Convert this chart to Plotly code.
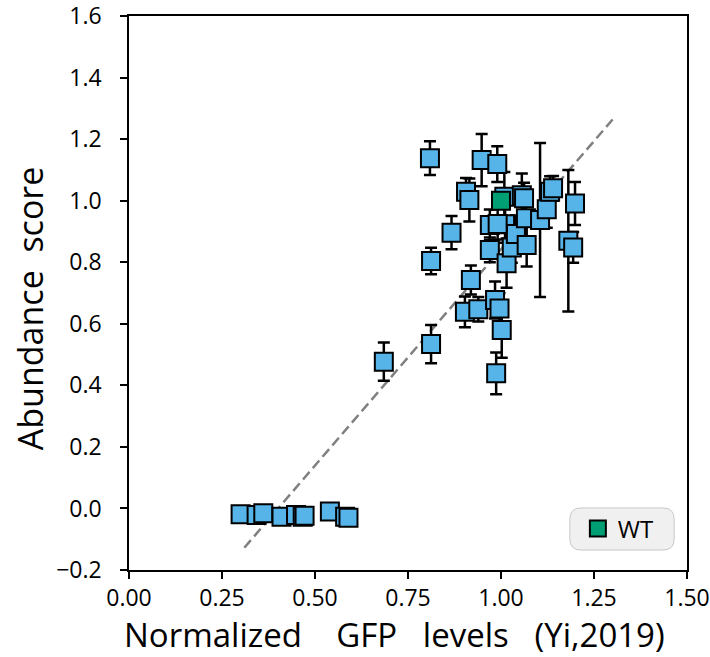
import numpy as np
import plotly.graph_objects as go

# Variant measurements: GFP level (Yi, 2019) vs. abundance score with SD
gfp_levels = [
    0.300, 0.343, 0.361, 0.410, 0.449, 0.467, 0.472, 0.540, 0.581, 0.590,
    0.685, 0.812, 0.809, 0.812, 0.867, 0.906, 0.915, 0.903, 0.919, 0.939,
    0.948, 0.990, 0.970, 0.970, 0.984, 0.996, 1.002, 0.987, 1.009, 1.011,
    1.015, 1.029, 1.040, 1.056, 1.062, 1.067, 1.069, 1.105, 1.123, 1.132,
    1.140, 1.181, 1.194, 1.199, 0.991,
]
abundance = [
    -0.019, -0.021, -0.016, -0.027, -0.021, -0.027, -0.024, -0.010, -0.027, -0.030,
    0.477, 0.534, 1.138, 0.804, 0.896, 1.029, 1.002, 0.639, 0.742, 0.647,
    1.132, 1.119, 0.921, 0.840, 0.677, 0.650, 0.580, 0.439, 1.013, 0.923,
    0.797, 0.848, 0.892, 1.018, 1.008, 0.943, 0.856, 0.937, 0.972, 1.029,
    1.040, 0.870, 0.848, 0.991, 0.924,
]
abundance_sd = [
    0.0, 0.0, 0.0, 0.0, 0.0, 0.0, 0.0, 0.0, 0.0, 0.0,
    0.062, 0.062, 0.055, 0.043, 0.054, 0.045, 0.070, 0.050, 0.047, 0.040,
    0.085, 0.058, 0.050, 0.040, 0.060, 0.050, 0.090, 0.068, 0.080, 0.060,
    0.080, 0.050, 0.060, 0.070, 0.050, 0.060, 0.070, 0.250, 0.060, 0.050,
    0.040, 0.230, 0.050, 0.070, 0.050,
]
wt_gfp = [1.0]
wt_abundance = [1.0]

fit_span = [0.31, 1.30]
x_ticks = [0.00, 0.25, 0.50, 0.75, 1.00, 1.25, 1.50]
y_ticks = [-0.2, 0.0, 0.2, 0.4, 0.6, 0.8, 1.0, 1.2, 1.4, 1.6]

BLUE = "#56B4E9"
GREEN = "#009E73"
FONT = "Open Sans"
NB = "\u00a0"

slope, intercept = np.polyfit(gfp_levels, abundance, 1)
fit_x = np.array(fit_span)
fit_y = slope * fit_x + intercept

fig = go.Figure()

fig.add_trace(go.Scatter(
    x=fit_x, y=fit_y, mode="lines",
    line=dict(color="#808080", width=2.5, dash="10px,5px"),
    showlegend=False, hoverinfo="skip",
))

fig.add_trace(go.Scatter(
    x=gfp_levels, y=abundance, mode="markers",
    marker=dict(symbol="square", size=18, color=BLUE,
                line=dict(color="black", width=2)),
    error_y=dict(type="data", array=abundance_sd, color="black",
                 thickness=2.5, width=6),
    showlegend=False,
))

fig.add_trace(go.Scatter(
    x=wt_gfp, y=wt_abundance, mode="markers", name="WT",
    marker=dict(symbol="square", size=18, color=GREEN,
                line=dict(color="black", width=2)),
))

axis_common = dict(
    showline=True, linecolor="black", linewidth=1.5, mirror=True,
    ticks="outside", ticklen=7, tickwidth=1.5, tickcolor="black",
    showgrid=False, zeroline=False, automargin=False,
    ticklabeloverflow="allow",
    tickfont=dict(family=FONT, size=23, color="black"),
)

fig.update_xaxes(range=[0, 1.5], tickvals=x_ticks, tickformat=".2f", **axis_common)
fig.update_yaxes(range=[-0.2, 1.6], tickvals=y_ticks, tickformat=".1f",
                 ticklabelstandoff=14, **axis_common)

# axis titles
fig.add_annotation(
    text=f"Normalized{NB * 4}GFP{NB * 3}levels{NB * 3}(Yi,2019)",
    xref="paper", yref="paper", x=0.475, y=-0.117,
    xanchor="center", yanchor="middle", showarrow=False,
    font=dict(family=FONT, size=33, color="black"),
)
fig.add_annotation(
    text=f"Abundance{NB * 2}score",
    xref="paper", yref="paper", x=-0.177, y=0.473, textangle=-90,
    xanchor="center", yanchor="middle", showarrow=False,
    font=dict(family=FONT, size=34, color="black"),
)

# rounded legend frame
x0, x1, y0, y1, r = 0.790, 0.977, 0.036, 0.112, 0.02
ry = r * 558 / 554
fig.add_shape(
    type="path", xref="paper", yref="paper", layer="below",
    path=(f"M {x0 + r} {y0} L {x1 - r} {y0} Q {x1} {y0} {x1} {y0 + ry} "
          f"L {x1} {y1 - ry} Q {x1} {y1} {x1 - r} {y1} "
          f"L {x0 + r} {y1} Q {x0} {y1} {x0} {y1 - ry} "
          f"L {x0} {y0 + ry} Q {x0} {y0} {x0 + r} {y0} Z"),
    fillcolor="#f0f0f0", line=dict(color="#c8c8c8", width=1),
)

fig.update_layout(
    width=710, height=657,
    margin=dict(l=129, r=23, t=16, b=87),
    plot_bgcolor="white", paper_bgcolor="white",
    legend=dict(x=0.877, y=0.074, xanchor="center", yanchor="middle",
                bgcolor="rgba(0,0,0,0)", borderwidth=0,
                font=dict(family=FONT, size=24, color="black"),
                itemwidth=30),
)

fig.write_html("out.html")
